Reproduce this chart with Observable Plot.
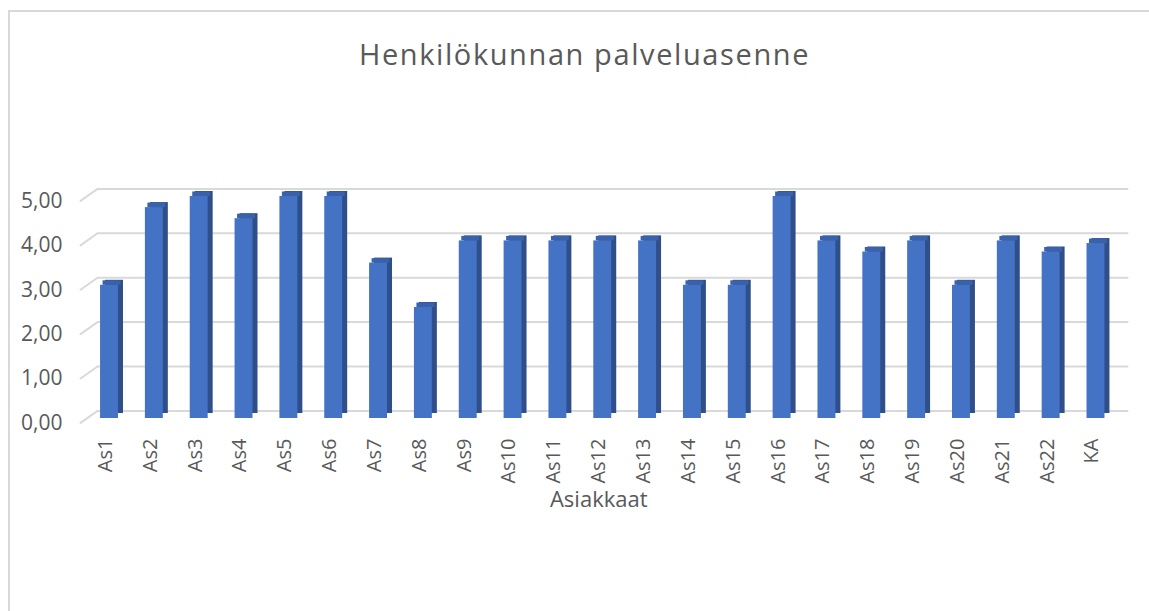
<!DOCTYPE html>
<html><head><meta charset="utf-8">
<script src="https://cdn.jsdelivr.net/npm/d3@7"></script>
<script src="https://cdn.jsdelivr.net/npm/@observablehq/plot@0.6"></script>
<style>
body{margin:0;background:#fff;font-family:"Open Sans",sans-serif;}
#wrap{position:relative;width:1149px;height:611px;overflow:hidden;}
#frame{position:absolute;left:8px;top:10px;width:1300px;height:800px;border-left:2px solid #d9d9d9;border-top:2px solid #d9d9d9;pointer-events:none;}
#title{height:100px;box-sizing:border-box;padding-top:34px;padding-left:20px;text-align:center;font-size:29px;letter-spacing:1.6px;line-height:normal;color:#595959;font-family:"Open Sans",sans-serif;}
svg{display:block;}
</style>
</head><body>
<div id="wrap">
<div id="title">Henkilökunnan palveluasenne</div>
<div id="chart"></div>
<div id="frame"></div>
</div>
<script>
const categories = ["As1","As2","As3","As4","As5","As6","As7","As8","As9","As10","As11","As12","As13","As14","As15","As16","As17","As18","As19","As20","As21","As22","KA"];
const values = [3,4.75,5,4.5,5,5,3.5,2.5,4,4,4,4,4,3,3,5,4,3.75,4,3,4,3.75,3.94];
const yTicks = [0,1,2,3,4,5];
const xTitle = "Asiakkaat";

const data = categories.map((c, i) => ({c, i, v: values[i]}));
const fmt = d => d.toFixed(2).replace(".", ",");
const grey = "#d9d9d9", txt = "#595959";
const half = 0.2;

const chart = Plot.plot({
  width: 1149, height: 511,
  marginTop: 96, marginBottom: 193, marginLeft: 86.6, marginRight: 31.1,
  style: {fontFamily: "'Open Sans', sans-serif", background: "transparent"},
  x: {type: "linear", domain: [-0.5, 22.5], axis: null},
  y: {domain: [0, 5], axis: null},
  marks: [
    Plot.ruleY(yTicks, {y: d => d, x1: -0.5, x2: 22.5, dx: 10.4, dy: -7.6, stroke: grey, strokeWidth: 2}),
    Plot.vector(yTicks, {x: -0.5, y: d => d, dx: 10.4, dy: -7.6, length: 20.8, rotate: 234.7, anchor: "start",
      shape: {draw(ctx, l) { ctx.moveTo(0, 0); ctx.lineTo(0, -l); }}, stroke: grey, strokeWidth: 2}),
    Plot.rectY(data, {x1: d => d.i - half, x2: d => d.i + half, y: "v", dx: 5, dy: -5, fill: "#2f4f8a"}),
    Plot.rectY(data, {x1: d => d.i - half, x2: d => d.i + half, y1: "v", y2: "v", dx: 2.5, insetTop: -4.5, fill: "#3a62ab"}),
    Plot.rectY(data, {x1: d => d.i - half, x2: d => d.i + half, y: "v", fill: "#4472c4"}),
    Plot.text(yTicks, {x: -0.5, y: d => d, text: fmt, textAnchor: "end", dx: -24.6, dy: 4.5, fontSize: 21, fill: txt, ariaLabel: "ytick"}),
    Plot.text(data, {x: "i", text: "c", frameAnchor: "bottom", lineAnchor: "middle", rotate: -90, textAnchor: "end", dx: -4, dy: 20, fontSize: 20, fill: txt}),
    Plot.text([xTitle], {frameAnchor: "bottom", lineAnchor: "middle", text: d => d, dx: -4, dy: 81, fontSize: 22, fill: txt})
  ]
});
d3.select(chart).selectAll('g[aria-label="ytick"] text').attr("letter-spacing", "0.8px");
document.getElementById("chart").appendChild(chart);
</script>
</body></html>
